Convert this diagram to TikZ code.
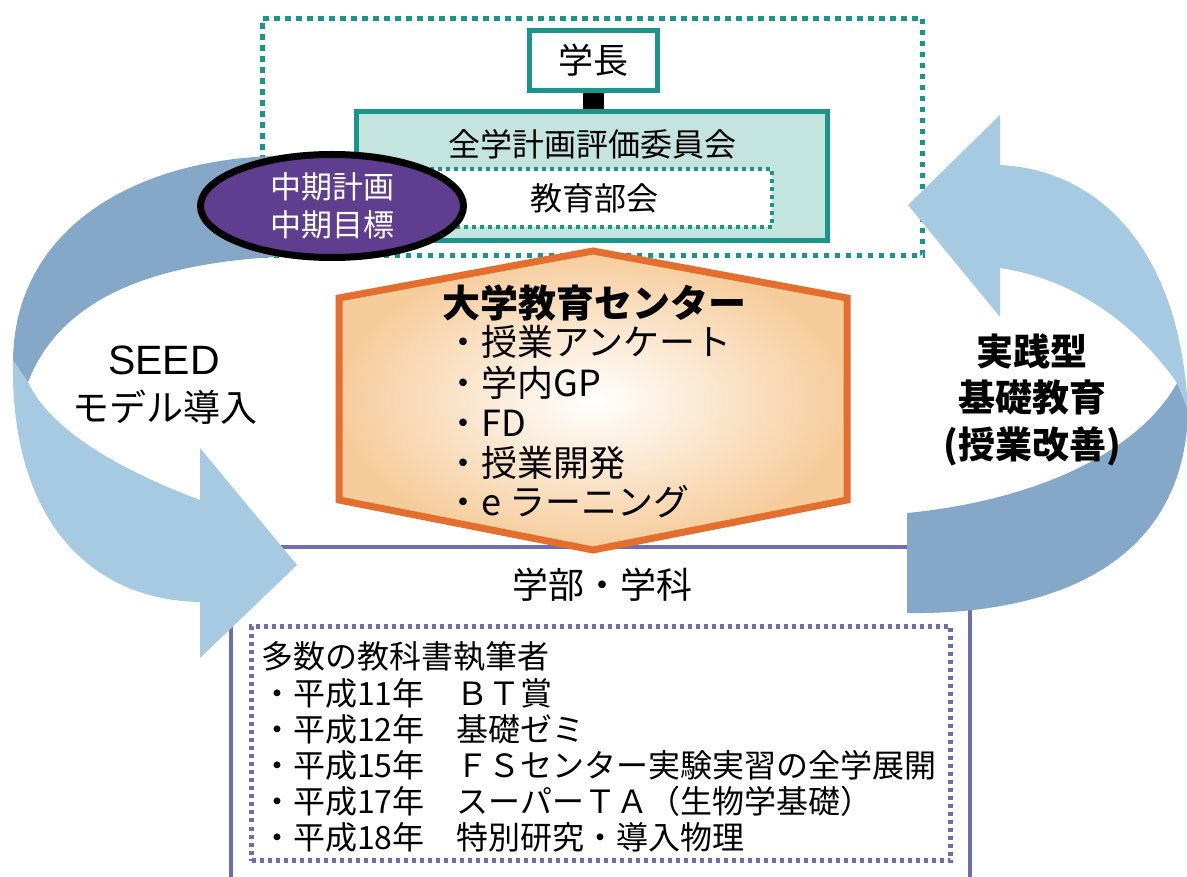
\documentclass[tikz,border=0pt]{standalone}
\usepackage{fontspec}
\setmainfont{Noto Sans CJK JP}
\newfontfamily\latinfont{Liberation Sans}
\usetikzlibrary{shapes.geometric}
\definecolor{teal1}{RGB}{27,148,137}
\definecolor{tealfill}{RGB}{196,228,223}
\definecolor{purpleE}{RGB}{96,62,143}
\definecolor{purpleL}{RGB}{112,108,176}
\definecolor{orangeL}{RGB}{228,110,45}
\definecolor{peach}{RGB}{246,204,155}
\definecolor{blueL}{RGB}{166,202,226}
\definecolor{blueD}{RGB}{134,168,200}
\newcommand\FS[1]{\fontsize{#1}{#1}\selectfont}
\tikzset{
  tealbox/.style={draw=teal1, line width=5pt, inner sep=0pt},
  lbl/.style={inner sep=0pt, anchor=base},
  lblw/.style={inner sep=0pt, anchor=base west},
  ribbonL/.style={fill=blueL},
  ribbonD/.style={fill=blueD},
  hexitem/.style={lblw, font=\FS{36}},
  listitem/.style={lblw, font=\FS{32}},
}
\begin{document}
\begin{tikzpicture}[x=1pt,y=-1pt]
\clip (0,0) rectangle (1187,877);
\fill[white] (0,0) rectangle (1187,877);
% outer teal dotted frame
\node[draw=teal1, line width=5pt, dash pattern=on 5.5pt off 5.5pt, minimum width=660pt, minimum height=237pt, inner sep=0pt] (frame) at (592.5,137) {};
% faculty box
\node[draw=purpleL, line width=4pt, minimum width=739pt, minimum height=360pt, inner sep=0pt] (gakubu) at (600.5,727) {};
\node[draw=purpleL, line width=4.5pt, dash pattern=on 4pt off 4pt, minimum width=699pt, minimum height=234pt, inner sep=0pt] (list) at (601,743.5) {};
% left arrow
\path[ribbonL] (13,360) .. controls (10,520) and (90,600) .. (200,602) -- (200,658) -- (297,565) -- (200,448) -- (200,500) .. controls (120,470) and (50,430) .. (28,382) -- cycle;
\path[ribbonD] (300,156) .. controls (150,152) and (15,220) .. (13,360) -- (28,382) .. controls (60,300) and (150,260) .. (300,256) -- cycle;
% right arrow
\path[ribbonL] (908,205) -- (1000,115) -- (1000,165) .. controls (1100,170) and (1180,250) .. (1188,410) -- (1177,383) .. controls (1140,330) and (1080,280) .. (1000,268) -- (1000,317) -- cycle;
\path[ribbonD] (1177,383) .. controls (1140,450) and (1040,500) .. (907,513) -- (907,613) .. controls (1060,615) and (1185,560) .. (1188,410) -- cycle;
% hexagon
\shadedraw[inner color=white, outer color=peach, draw=orangeL, line width=7pt, line join=miter]
  (593,251) -- (847,298) -- (847,500) -- (593,550) -- (339,500) -- (339,298) -- cycle;
% teal boxes
\node[tealbox, fill=white, minimum width=128pt, minimum height=60pt, font=\FS{35}] (gakucho) at (593,60.5) {学長};
\node[tealbox, fill=tealfill, minimum width=471pt, minimum height=129pt] (zengaku) at (592,176) {};
\draw[line width=21pt] (gakucho.south) -- (gakucho.south |- zengaku.north);
\node[lbl, font=\FS{32}] (zengakuT) at (592,157) {全学計画評価委員会};
\node[draw=teal1, fill=white, line width=4pt, dash pattern=on 4pt off 4pt, minimum width=356pt, minimum height=58pt, inner sep=0pt, font=\FS{32}] (bukai) at (594,198) {教育部会};
% ellipse
\node[ellipse, draw=black, fill=purpleE, line width=7pt, minimum width=263pt, minimum height=103pt, inner sep=0pt, text=white, align=center, font=\fontsize{31}{38}\selectfont] (plan) at (332,206) {中期計画\\中期目標};
% hexagon text
\node[lblw, font=\FS{38}\bfseries] (center) at (442,317.5) {大学教育センター};
\node[hexitem] (c1) at (445,355.7) {・授業アンケート};
\node[hexitem] (c2) at (445,396.7) {・学内GP};
\node[hexitem] (c3) at (445,436.7) {・FD};
\node[hexitem] (c4) at (445,476.7) {・授業開発};
\node[hexitem] (c5) at (445,515.7) {・e ラーニング};
% left label
\node[lbl, font=\FS{41}\latinfont] (seed) at (164,375) {SEED};
\node[lbl, font=\FS{37}] (seed2) at (165,421) {モデル導入};
% right label
\node[lbl, font=\FS{37}\bfseries] (r1) at (1032,366) {実践型};
\node[lbl, font=\FS{37}\bfseries] (r2) at (1032,412) {基礎教育};
\node[lbl, font=\FS{37}\bfseries] (r3) at (1032,458) {(授業改善)};
% faculty
\node[lbl, font=\FS{36}] (gakubuT) at (602,598.7) {学部・学科};
\node[listitem] (l0) at (261,668) {多数の教科書執筆者};
\node[listitem] (l1) at (261,705) {・平成11年　ＢＴ賞};
\node[listitem] (l2) at (261,741) {・平成12年　基礎ゼミ};
\node[listitem] (l3) at (261,777) {・平成15年　ＦＳセンター実験実習の全学展開};
\node[listitem] (l4) at (261,813) {・平成17年　スーパーＴＡ（生物学基礎）};
\node[listitem] (l5) at (261,849) {・平成18年　特別研究・導入物理};
\end{tikzpicture}
\end{document}
